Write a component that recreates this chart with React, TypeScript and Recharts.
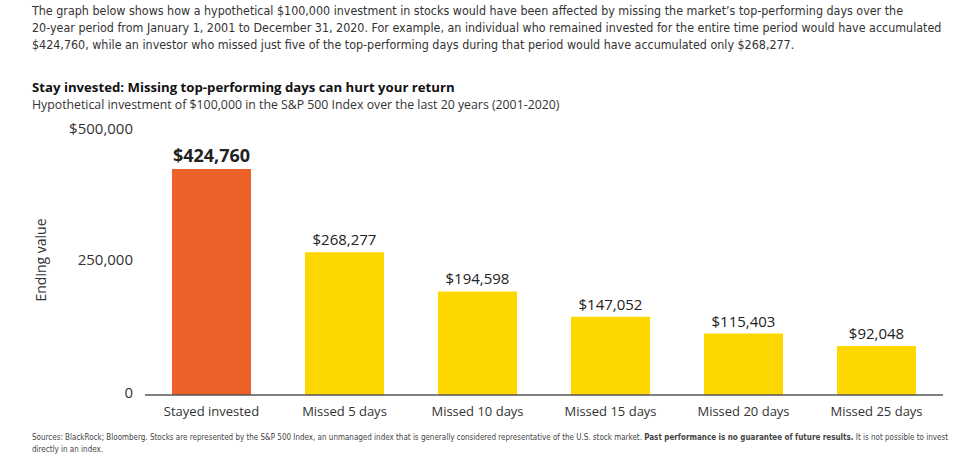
import React from 'react';
import { BarChart, Bar, XAxis, YAxis, Cell, LabelList } from 'recharts';

const categories = ['Stayed invested', 'Missed 5 days', 'Missed 10 days', 'Missed 15 days', 'Missed 20 days', 'Missed 25 days'];
const values = [424760, 268277, 194598, 147052, 115403, 92048];
const yTicks = [0, 250000, 500000];
const barColors = ['#EC6128', '#FFD700', '#FFD700', '#FFD700', '#FFD700', '#FFD700'];

const introLines = [
  'The graph below shows how a hypothetical $100,000 investment in stocks would have been affected by missing the market\u2019s top-performing days over the',
  '20-year period from January 1, 2001 to December 31, 2020. For example, an individual who remained invested for the entire time period would have accumulated',
  '$424,760, while an investor who missed just five of the top-performing days during that period would have accumulated only $268,277.',
];
const title = 'Stay invested: Missing top-performing days can hurt your return';
const subtitle = 'Hypothetical investment of $100,000 in the S&P 500 Index over the last 20 years (2001-2020)';
const yLabel = 'Ending value';
const footer1a = 'Sources: BlackRock; Bloomberg. Stocks are represented by the S&P 500 Index, an unmanaged index that is generally considered representative of the U.S. stock market. ';
const footer1b = 'Past performance is no guarantee of future results.';
const footer1c = ' It is not possible to invest';
const footer2 = 'directly in an index.';

const data = categories.map((name, i) => ({ name, value: values[i] }));

const chartFont = "'Open Sans', sans-serif";
const narrowFont = "'Liberation Sans Narrow', 'DejaVu Sans Condensed', sans-serif";

const fmtTick = (v: number) => (v === 500000 ? '$' : '') + v.toLocaleString('en-US');

const renderLabel = (props: any) => {
  const x = Number(props.x);
  const y = Number(props.y);
  const w = Number(props.width);
  const first = props.index === 0;
  return (
    <text
      x={x + w / 2}
      y={y - 7}
      textAnchor="middle"
      fontSize={first ? 18 : 15}
      fontWeight={first ? 700 : 400}
      fill="#222"
      fontFamily={chartFont}
    >
      {'$' + Number(props.value).toLocaleString('en-US')}
    </text>
  );
};

const renderYTick = (props: any) => {
  const { x, y, payload } = props;
  const shift = payload.value === 500000 ? 0 : -2;
  return (
    <text x={Number(x)} y={Number(y) + shift} dy="0.355em" textAnchor="end" fontSize={15} fill="#333" fontFamily={chartFont}>
      {fmtTick(payload.value)}
    </text>
  );
};

export default function App() {
  return (
    <div style={{ position: 'absolute', left: 0, top: 0, width: 975, height: 468, background: '#fff', overflow: 'hidden' }}>
      {introLines.map((line, i) => (
        <div
          key={i}
          style={{
            position: 'absolute', left: 32, top: 2 + i * 17, lineHeight: '17px', fontSize: 12.4,
            fontFamily: narrowFont, color: '#333', whiteSpace: 'nowrap',
          }}
        >
          {line}
        </div>
      ))}
      <div style={{ position: 'absolute', left: 32, top: 79, lineHeight: '16px', fontSize: 13.2, fontWeight: 700, fontFamily: chartFont, color: '#111', whiteSpace: 'nowrap' }}>
        {title}
      </div>
      <div style={{ position: 'absolute', left: 32, top: 98, lineHeight: '14px', fontSize: 12.3, fontFamily: chartFont, color: '#333', whiteSpace: 'nowrap' }}>
        {subtitle}
      </div>
      <div style={{ position: 'absolute', left: 40, top: 260, transform: 'translate(-50%, -50%) rotate(-90deg)', fontSize: 14, fontFamily: chartFont, color: '#333', whiteSpace: 'nowrap' }}>
        {yLabel}
      </div>
      <div style={{ position: 'absolute', left: 0, top: 0 }}>
        <BarChart width={975} height={468} data={data} margin={{ top: 129, right: 32, left: 45, bottom: 43 }}>
          <XAxis
            dataKey="name"
            interval={0}
            tickLine={false}
            tickSize={0}
            tickMargin={12}
            axisLine={{ stroke: '#555', strokeWidth: 1.5 }}
            tick={{ fontSize: 13, fill: '#333', fontFamily: chartFont }}
            height={30}
          />
          <YAxis
            width={100}
            domain={[0, 500000]}
            ticks={yTicks}
            axisLine={false}
            tickLine={false}
            tickSize={0}
            tickMargin={12}
            tick={renderYTick}
          />
          <Bar dataKey="value" barSize={79} isAnimationActive={false}>
            {data.map((d, i) => (
              <Cell key={d.name} fill={barColors[i]} />
            ))}
            <LabelList dataKey="value" content={renderLabel} />
          </Bar>
        </BarChart>
      </div>
      <div style={{ position: 'absolute', left: 32, top: 431, lineHeight: '12px', fontSize: 9.5, fontFamily: narrowFont, color: '#444', whiteSpace: 'nowrap', transform: 'scaleX(0.84)', transformOrigin: 'left top' }}>
        {footer1a}<b>{footer1b}</b>{footer1c}
      </div>
      <div style={{ position: 'absolute', left: 32, top: 443, lineHeight: '12px', fontSize: 9.5, fontFamily: narrowFont, color: '#444', whiteSpace: 'nowrap', transform: 'scaleX(0.84)', transformOrigin: 'left top' }}>
        {footer2}
      </div>
    </div>
  );
}
